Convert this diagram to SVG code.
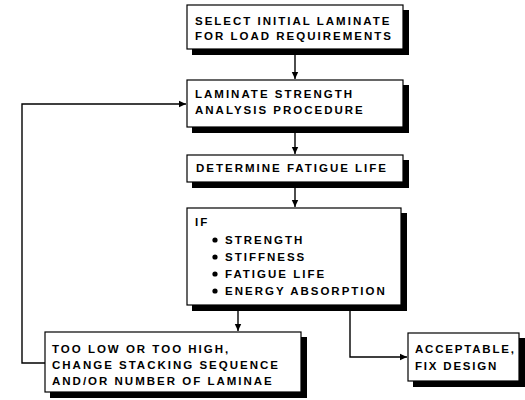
<svg xmlns="http://www.w3.org/2000/svg" width="525" height="400" viewBox="0 0 525 400">
<defs>
<marker id="ah" markerWidth="8" markerHeight="8" refX="7" refY="4" orient="auto" markerUnits="userSpaceOnUse">
<path d="M0,0.8 L7,4 L0,7.2 Z" fill="#000"/>
</marker>
<style>
.sh{fill:#000}
.bx{fill:#fff;stroke:#000;stroke-width:1.2}
.t{font-family:"Liberation Sans",Arial,sans-serif;font-weight:bold;font-size:11.5px;letter-spacing:2px;fill:#000}
.c{fill:none;stroke:#000;stroke-width:1.4}
</style>
</defs>
<rect width="525" height="400" fill="#fff"/>
<g id="connectors">
<path class="c" d="M295,55 V79" marker-end="url(#ah)"/>
<path class="c" d="M295,133 V154" marker-end="url(#ah)"/>
<path class="c" d="M295,188 V207" marker-end="url(#ah)"/>
<path class="c" d="M238,311 V331" marker-end="url(#ah)"/>
<path class="c" d="M350,311 V357 H407" marker-end="url(#ah)"/>
<path class="c" d="M45,363 H22 V104 H186" marker-end="url(#ah)"/>
</g>
<g id="select">
<rect class="sh" x="192" y="10" width="217" height="45"/>
<rect class="bx" x="187" y="5" width="216" height="44"/>
<text class="t" x="195" y="25">SELECT INITIAL LAMINATE</text>
<text class="t" x="195" y="40">FOR LOAD REQUIREMENTS</text>
</g>
<g id="analysis">
<rect class="sh" x="192" y="85" width="217" height="48"/>
<rect class="bx" x="187" y="80" width="216" height="47"/>
<text class="t" x="195" y="98">LAMINATE STRENGTH</text>
<text class="t" x="195" y="114">ANALYSIS PROCEDURE</text>
</g>
<g id="fatigue">
<rect class="sh" x="192" y="160" width="217" height="28"/>
<rect class="bx" x="187" y="155" width="216" height="27"/>
<text class="t" x="196" y="172">DETERMINE FATIGUE LIFE</text>
</g>
<g id="if">
<rect class="sh" x="192" y="213" width="215" height="98"/>
<rect class="bx" x="187" y="208" width="214" height="97"/>
<text class="t" x="195" y="226">IF</text>
<circle cx="215" cy="240" r="2.6"/>
<circle cx="215" cy="257" r="2.6"/>
<circle cx="215" cy="274" r="2.6"/>
<circle cx="215" cy="291" r="2.6"/>
<text class="t" x="225" y="244">STRENGTH</text>
<text class="t" x="225" y="261">STIFFNESS</text>
<text class="t" x="225" y="278">FATIGUE LIFE</text>
<text class="t" x="225" y="295">ENERGY ABSORPTION</text>
</g>
<g id="change">
<rect class="sh" x="50" y="337" width="257" height="61"/>
<rect class="bx" x="45" y="332" width="256" height="60"/>
<text class="t" x="52" y="353">TOO LOW OR TOO HIGH,</text>
<text class="t" x="52" y="369">CHANGE STACKING SEQUENCE</text>
<text class="t" x="52" y="385">AND/OR NUMBER OF LAMINAE</text>
</g>
<g id="accept">
<rect class="sh" x="413" y="338" width="112" height="49"/>
<rect class="bx" x="408" y="333" width="111" height="48"/>
<text class="t" x="415" y="353" style="letter-spacing:1.8px">ACCEPTABLE,</text>
<text class="t" x="415" y="370" style="letter-spacing:1.8px">FIX DESIGN</text>
</g>
</svg>
